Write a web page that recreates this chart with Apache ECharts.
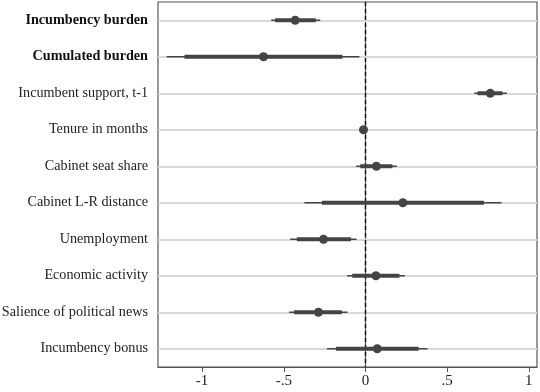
<!DOCTYPE html>
<html>
<head>
<meta charset="utf-8">
<script src="https://cdn.jsdelivr.net/npm/echarts@6/dist/echarts.min.js"></script>
<style>
  html, body { margin: 0; padding: 0; background: #fff; }
  #chart { width: 540px; height: 392px; }
</style>
</head>
<body>
<div id="chart"></div>
<script>
  // 变量名称
  var categories = ['Incumbency burden', 'Cumulated burden', 'Incumbent support, t-1', 'Tenure in months',
    'Cabinet seat share', 'Cabinet L-R distance', 'Unemployment', 'Economic activity',
    'Salience of political news', 'Incumbency bonus']
  var boldLabels = ['Incumbency burden', 'Cumulated burden']
  // 点估计
  var estimates = [-0.43, -0.624, 0.764, -0.012, 0.067, 0.229, -0.257, 0.064, -0.288, 0.072]
  // 内区间 (粗线)
  var innerLow = [-0.553, -1.108, 0.686, -0.014, -0.032, -0.267, -0.42, -0.081, -0.437, -0.181]
  var innerHigh = [-0.304, -0.141, 0.839, -0.010, 0.165, 0.725, -0.089, 0.208, -0.145, 0.325]
  // 外区间 (细线)
  var outerLow = [-0.577, -1.216, 0.666, -0.015, -0.057, -0.374, -0.461, -0.112, -0.467, -0.236]
  var outerHigh = [-0.277, -0.037, 0.866, -0.009, 0.192, 0.833, -0.055, 0.241, -0.11, 0.38]
  var xTicks = [-1, -0.5, 0, 0.5, 1]
  var xTickLabels = ['-1', '-.5', '0', '.5', '1']

  var font = 'Liberation Serif'
  var ink = '#444444'

  function rangeData (lo, hi) {
    return categories.map(function (c, i) { return [lo[i], hi[i], i] })
  }

  // 区间用矩形画, 高度即线宽
  function rangeRender (width) {
    return function (params, api) {
      var a = api.coord([api.value(0), api.value(2)])
      var b = api.coord([api.value(1), api.value(2)])
      return {
        type: 'rect',
        shape: { x: a[0], y: a[1] - width / 2, width: b[0] - a[0], height: width },
        style: { fill: ink, stroke: null }
      }
    }
  }

  var chart = echarts.init(document.getElementById('chart'))
  chart.setOption({
    animation: false,
    grid: {
      left: 158, top: 2, right: 3, bottom: 25,
      outerBoundsMode: 'none',
      containLabel: false,
      show: true, borderColor: '#555', borderWidth: 1.2, backgroundColor: '#fff'
    },
    xAxis: {
      type: 'value',
      min: -1.27,
      max: 1.05,
      axisLine: { show: true, lineStyle: { color: '#555', width: 1.2 } },
      axisTick: { show: true, customValues: xTicks, length: 5, lineStyle: { color: '#555' } },
      axisLabel: {
        customValues: xTicks,
        margin: 7,
        fontFamily: font,
        fontSize: 15,
        color: '#222',
        formatter: function (v) {
          var i = xTicks.indexOf(v)
          return i >= 0 ? xTickLabels[i] : ''
        }
      },
      splitLine: { show: false }
    },
    yAxis: {
      type: 'category',
      data: categories,
      inverse: true,
      axisLine: { show: true, lineStyle: { color: '#555', width: 1.2 } },
      axisTick: { show: true, alignWithLabel: true, length: 5, lineStyle: { color: '#555' } },
      axisLabel: {
        margin: 10,
        fontFamily: font,
        fontSize: 14.2,
        color: '#222',
        formatter: function (v) {
          return boldLabels.indexOf(v) >= 0 ? '{b|' + v + '}' : v
        },
        rich: {
          b: { fontFamily: font, fontSize: 14.2, fontWeight: 'bold', color: '#111' }
        }
      },
      splitLine: { show: false }
    },
    series: [
      {
        // 网格线
        type: 'scatter',
        data: [],
        silent: true,
        z: 1,
        markLine: {
          symbol: 'none',
          silent: true,
          z: 1,
          label: { show: false },
          data: categories.map(function (c) {
            return { yAxis: c, lineStyle: { color: '#d9d9d9', width: 2, type: 'solid' } }
          })
        }
      },
      {
        // 零线
        type: 'scatter',
        data: [],
        silent: true,
        z: 2,
        markLine: {
          symbol: 'none',
          silent: true,
          z: 2,
          label: { show: false },
          data: [{ xAxis: 0, lineStyle: { color: '#111', width: 1.4, type: [4, 3] } }]
        }
      },
      {
        type: 'custom',
        renderItem: rangeRender(1.4),
        data: rangeData(outerLow, outerHigh),
        encode: { x: [0, 1], y: 2 },
        z: 3
      },
      {
        type: 'custom',
        renderItem: rangeRender(4),
        data: rangeData(innerLow, innerHigh),
        encode: { x: [0, 1], y: 2 },
        z: 4
      },
      {
        type: 'scatter',
        symbol: 'circle',
        symbolSize: 9,
        itemStyle: { color: ink, opacity: 1 },
        data: categories.map(function (c, i) { return [estimates[i], i] }),
        z: 5
      }
    ]
  })
</script>
</body>
</html>
